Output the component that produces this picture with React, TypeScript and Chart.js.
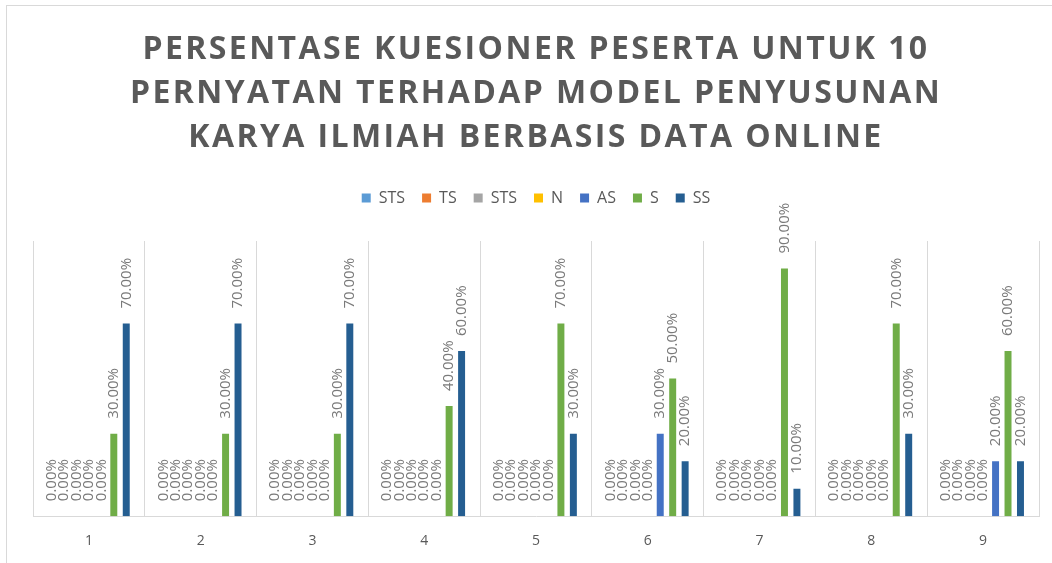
import React, { useEffect, useRef } from 'react';
import { Chart, registerables } from 'chart.js';

Chart.register(...registerables);

const titleLines = [
  'PERSENTASE KUESIONER PESERTA UNTUK 10',
  'PERNYATAN TERHADAP MODEL PENYUSUNAN',
  'KARYA ILMIAH BERBASIS DATA ONLINE',
];

const categories = ['1', '2', '3', '4', '5', '6', '7', '8', '9'];

const seriesNames = ['STS', 'TS', 'STS', 'N', 'AS', 'S', 'SS'];

const stsValues = [0, 0, 0, 0, 0, 0, 0, 0, 0];
const tsValues = [0, 0, 0, 0, 0, 0, 0, 0, 0];
const sts2Values = [0, 0, 0, 0, 0, 0, 0, 0, 0];
const nValues = [0, 0, 0, 0, 0, 0, 0, 0, 0];
const asValues = [0, 0, 0, 0, 0, 0.3, 0, 0, 0.2];
const sValues = [0.3, 0.3, 0.3, 0.4, 0.7, 0.5, 0.9, 0.7, 0.6];
const ssValues = [0.7, 0.7, 0.7, 0.6, 0.3, 0.2, 0.1, 0.3, 0.2];

const seriesColors = ['#5B9BD5', '#ED7D31', '#A5A5A5', '#FFC000', '#4472C4', '#70AD47', '#255E91'];

const FONT = '"Open Sans", "DejaVu Sans", sans-serif';

const dataLabelPlugin = {
  id: 'dataLabels',
  afterDatasetsDraw(chart: any) {
    const ctx = chart.ctx;
    ctx.save();
    ctx.font = `15px ${FONT}`;
    ctx.fillStyle = '#7a7a7a';
    ctx.textAlign = 'left';
    ctx.textBaseline = 'middle';
    chart.data.datasets.forEach((ds: any, di: number) => {
      const meta = chart.getDatasetMeta(di);
      meta.data.forEach((el: any, i: number) => {
        const v = ds.data[i];
        const label = (v * 100).toFixed(2) + '%';
        ctx.save();
        ctx.translate(el.x, el.y - 15);
        ctx.rotate(-Math.PI / 2);
        ctx.fillText(label, 0, 0);
        ctx.restore();
      });
    });
    ctx.restore();
  },
};

const layoutHacks = {
  id: 'layoutHacks',
  afterInit(chart: any) {
    const legend = chart.legend;
    if (legend) {
      const origFit = legend.fit.bind(legend);
      legend.fit = function () {
        origFit();
        this.height += 25;
      };
    }
    const tb = chart.titleBlock;
    if (tb) {
      const origDraw = tb.draw.bind(tb);
      tb.draw = function () {
        const ctx = chart.ctx;
        ctx.save();
        (ctx as any).letterSpacing = '2.4px';
        origDraw();
        ctx.restore();
      };
    }
  },
};

export default function App() {
  const canvasRef = useRef<HTMLCanvasElement | null>(null);

  useEffect(() => {
    if (!canvasRef.current) return;
    const allValues = [stsValues, tsValues, sts2Values, nValues, asValues, sValues, ssValues];
    const chart = new Chart(canvasRef.current, {
      type: 'bar',
      data: {
        labels: categories,
        datasets: seriesNames.map((name, i) => ({
          label: name,
          data: allValues[i],
          backgroundColor: seriesColors[i],
          borderWidth: 0,
          categoryPercentage: 0.78,
          barPercentage: 0.56,
        })),
      },
      options: {
        responsive: false,
        animation: false,
        devicePixelRatio: 1,
        layout: { padding: { left: 26, right: 30, top: 0, bottom: 14 } },
        plugins: {
          title: {
            display: true,
            text: titleLines,
            color: '#595959',
            font: { family: FONT, size: 32, weight: 'bold', lineHeight: 44 / 32 },
            padding: { top: 22, bottom: 13 },
          },
          legend: {
            display: true,
            position: 'top',
            labels: {
              boxWidth: 9,
              boxHeight: 9,
              padding: 17,
              color: '#595959',
              font: { family: FONT, size: 16 },
            },
          },
          tooltip: { enabled: false },
        },
        scales: {
          x: {
            grid: { display: true, color: '#d9d9d9', offset: true, drawTicks: false, lineWidth: 1 },
            border: { display: true, color: '#d9d9d9' },
            ticks: { color: '#595959', font: { family: FONT, size: 14 }, padding: 16 },
          },
          y: {
            display: false,
            min: 0,
            max: 1,
          },
        },
      },
      plugins: [dataLabelPlugin, layoutHacks],
    });
    return () => chart.destroy();
  }, []);

  return (
    <div style={{ position: 'fixed', left: 0, top: 0, width: 1052, height: 563, overflow: 'hidden', background: '#fff' }}>
      <div
        style={{
          position: 'absolute',
          left: 6,
          top: 5,
          width: 1070,
          height: 590,
          borderTop: '1px solid #d9d9d9',
          borderLeft: '1px solid #d9d9d9',
        }}
      >
        <canvas ref={canvasRef} width={1062} height={573} style={{ display: 'block' }} />
      </div>
    </div>
  );
}
